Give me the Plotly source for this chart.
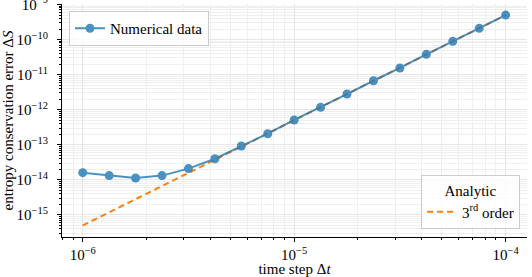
import plotly.graph_objects as go

# Data
dt = [1.0e-6, 1.334e-6, 1.778e-6, 2.371e-6, 3.162e-6, 4.217e-6, 5.623e-6, 7.499e-6,
      1.0e-5, 1.334e-5, 1.778e-5, 2.371e-5, 3.162e-5, 4.217e-5, 5.623e-5, 7.499e-5, 1.0e-4]
err = [1.6e-14, 1.32e-14, 1.13e-14, 1.32e-14, 2.09e-14, 4.0e-14, 9.2e-14, 2.07e-13,
       5.1e-13, 1.17e-12, 2.8e-12, 6.7e-12, 1.55e-11, 3.8e-11, 8.9e-11, 2.09e-10, 5.0e-10]
analytic_dt = [1.0e-6, 1.0e-4]
analytic_err = [5.0e-16, 5.0e-10]

x_tickvals = [1e-6, 1e-5, 1e-4]
x_ticktext = ["10<sup>−6</sup>", "10<sup>−5</sup>", "10<sup>−4</sup>"]
y_tickvals = [1e-15, 1e-14, 1e-13, 1e-12, 1e-11, 1e-10, 1e-9]
y_ticktext = ["10<sup>−15</sup>", "10<sup>−14</sup>", "10<sup>−13</sup>", "10<sup>−12</sup>",
              "10<sup>−11</sup>", "10<sup>−10</sup>", "10<sup>−9</sup>"]

FONT = "Liberation Serif"

fig = go.Figure()
fig.add_trace(go.Scatter(
    x=analytic_dt, y=analytic_err, mode="lines", name="3<sup>rd</sup> order",
    line=dict(color="#ff7f0e", width=2, dash="6px,4px"),
    legend="legend2", showlegend=True,
))
fig.add_trace(go.Scatter(
    x=dt, y=err, mode="lines+markers", name="Numerical data",
    line=dict(color="#1f77b4", width=2),
    marker=dict(color="#1f77b4", size=9),
    opacity=0.8,
    legend="legend", showlegend=True,
))

grid_major = "#e6e6e6"
grid_minor = "#efefef"

fig.update_layout(
    width=532, height=277,
    margin=dict(l=62, r=5, t=4, b=40),
    paper_bgcolor="white", plot_bgcolor="white",
    showlegend=True,
    font=dict(family=FONT, size=15, color="black"),
    xaxis=dict(
        type="log", range=[-6.098, -3.899], automargin=False,
        tickvals=x_tickvals, ticktext=x_ticktext,
        showgrid=True, gridcolor=grid_major, gridwidth=1,
        showline=True, linecolor="black", linewidth=1,
        ticks="outside", ticklen=4, tickcolor="black",
        minor=dict(dtick="D1", showgrid=True, gridcolor=grid_minor,
                   ticks="outside", ticklen=2, tickcolor="black"),
        title=dict(text="time step Δ<i>t</i>", standoff=5, font=dict(size=15)),
        tickfont=dict(size=15),
        zeroline=False,
    ),
    yaxis=dict(
        type="log", range=[-15.63, -8.985], automargin=False,
        tickvals=y_tickvals, ticktext=y_ticktext,
        ticklabeloverflow="allow", ticklabelstandoff=6,
        showgrid=True, gridcolor=grid_major, gridwidth=1,
        showline=True, linecolor="black", linewidth=1,
        ticks="outside", ticklen=4, tickcolor="black",
        minor=dict(dtick="D1", showgrid=True, gridcolor=grid_minor,
                   ticks="outside", ticklen=2, tickcolor="black"),
        title=dict(text="entropy conservation error Δ<i>S</i>", standoff=2, font=dict(size=15)),
        tickfont=dict(size=15),
        zeroline=False,
    ),
    legend=dict(
        x=0.015, y=0.97, xanchor="left", yanchor="top",
        bgcolor="rgba(255,255,255,0.8)", bordercolor="#cccccc", borderwidth=1,
        font=dict(family=FONT, size=15),
    ),
    legend2=dict(
        x=0.985, y=0.034, xanchor="right", yanchor="bottom",
        bgcolor="rgba(255,255,255,0.8)", bordercolor="#cccccc", borderwidth=1,
        font=dict(family=FONT, size=15),
        title=dict(text="Analytic", side="top center", font=dict(family=FONT, size=15)),
    ),
)

fig.write_html("out.html", config={"displayModeBar": False},
               post_script="document.body.style.margin='0';document.body.style.overflow='hidden';")
